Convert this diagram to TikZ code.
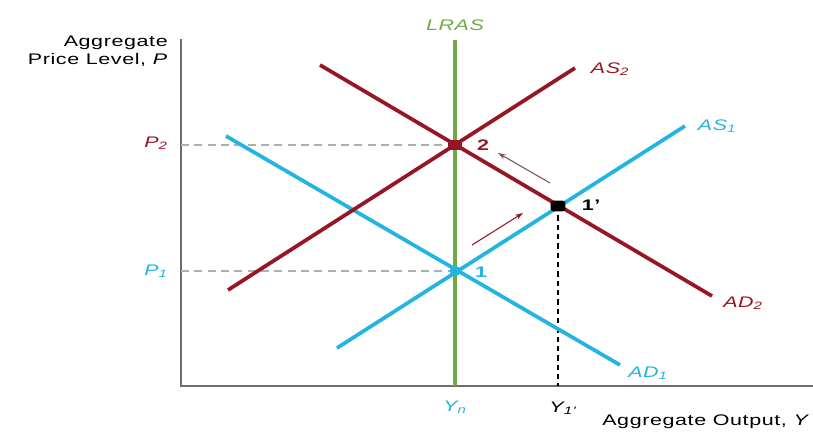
\documentclass[tikz,border=0pt]{standalone}
\usepackage{fontspec}
\setmainfont[FakeStretch=1.4,LetterSpace=4]{Liberation Sans}
\usetikzlibrary{arrows.meta}

\definecolor{asred}{RGB}{150,22,35}
\definecolor{adblue}{RGB}{35,180,225}
\definecolor{lrasgreen}{RGB}{112,170,72}
\definecolor{axisgray}{RGB}{110,110,110}
\definecolor{dashgray}{RGB}{175,175,175}

\begin{document}
\begin{tikzpicture}
[
	x=0.75pt,y=-0.75pt,
	curve/.style={line width=2.8pt},
	eqpt/.style={circle,fill,inner sep=0pt,minimum size=8pt},
	lbl/.style={font=\itshape\fontsize{11.5}{13}\selectfont,inner sep=0pt},
	ptlbl/.style={font=\bfseries\fontsize{11.5}{13}\selectfont,inner sep=0pt},
	guide/.style={dashgray,dashed,line width=0.9pt,dash pattern=on 6pt off 4pt},
	shiftarrow/.style={-{Stealth[length=6pt,width=4pt]},asred,line width=0.8pt}
]
	\useasboundingbox (0,0) rectangle (813,432);

	% axes
	\coordinate (o) at (181,386);
	\coordinate (ytop) at (181,39);
	\coordinate (xend) at (813,386);
	\draw[axisgray,line width=1.2pt] (ytop) -- (o) -- (xend);
	\node[font=\fontsize{11.5}{13}\selectfont,align=right,anchor=north east,inner sep=0pt] (ylab) at (168,36) {Aggregate\\Price Level, \textit{P}};
	\node[font=\fontsize{11.5}{13}\selectfont,anchor=east,inner sep=0pt] (xlab) at (810,422) {Aggregate Output, \textit{Y}};

	% long-run supply
	\coordinate (lrtop) at (455,40);
	\coordinate (lrbot) at (455,386);
	\draw[lrasgreen,line width=3.4pt] (lrbot) -- (lrtop);
	\node[lbl,lrasgreen] (lras) at (455,25) {LRAS};

	% curves
	\coordinate (as2a) at (228,290);
	\coordinate (as2b) at (575,68);
	\coordinate (ad2a) at (320,65);
	\coordinate (ad2b) at (712,296);
	\coordinate (as1a) at (337,348);
	\coordinate (as1b) at (685,126);
	\coordinate (ad1a) at (226,136);
	\coordinate (ad1b) at (620,365);

	% equilibrium points
	\coordinate (e2) at (455,145);
	\coordinate (e1) at (455,271);
	\coordinate (e1p) at (558,206);

	% guides
	\draw[guide] (181,145) -- (e2);
	\draw[guide] (181,271) -- (e1);
	\draw[black,dashed,line width=0.9pt,dash pattern=on 4pt off 3pt] (e1p) -- (558,386);

	\draw[curve,adblue] (ad1a) -- (ad1b);
	\draw[curve,adblue] (as1a) -- (as1b);
	\draw[curve,asred] (as2a) -- (as2b);
	\draw[curve,asred] (ad2a) -- (ad2b);

	\node[lbl,asred] (as2lab) at (610,69) {AS\textsubscript{2}};
	\node[lbl,adblue] (as1lab) at (717,126) {AS\textsubscript{1}};
	\node[lbl,asred] (ad2lab) at (743,303) {AD\textsubscript{2}};
	\node[lbl,adblue] (ad1lab) at (648,373) {AD\textsubscript{1}};

	\node[eqpt,asred,rectangle,minimum width=10pt,minimum height=8pt] (pt2) at (e2) {};
	\node[eqpt,adblue] (pt1) at (e1) {};
	\node[eqpt,black,rectangle,rounded corners=2pt,minimum width=11pt,minimum height=8pt] (pt1p) at (e1p) {};
	\node[ptlbl,asred] (l2) at (483,145) {2};
	\node[ptlbl,adblue] (l1) at (481,272) {1};
	\node[ptlbl,black] (l1p) at (591,205) {1'};

	% shifts
	\coordinate (s1a) at (472,245);
	\coordinate (s1b) at (523,213);
	\coordinate (s2a) at (550,183);
	\coordinate (s2b) at (498,153);
	\draw[shiftarrow] (s1a) -- (s1b);
	\draw[shiftarrow,axisgray!70!asred] (s2a) -- (s2b);

	% axis values
	\node[lbl,asred] (p2lab) at (156,143) {P\textsubscript{2}};
	\node[lbl,adblue] (p1lab) at (156,271) {P\textsubscript{1}};
	\node[lbl,adblue] (ynlab) at (455,407) {Y\textsubscript{\textit{n}}};
	\node[lbl,black] (y1lab) at (563,408) {Y\textsubscript{1'}};

\end{tikzpicture}
\end{document}
